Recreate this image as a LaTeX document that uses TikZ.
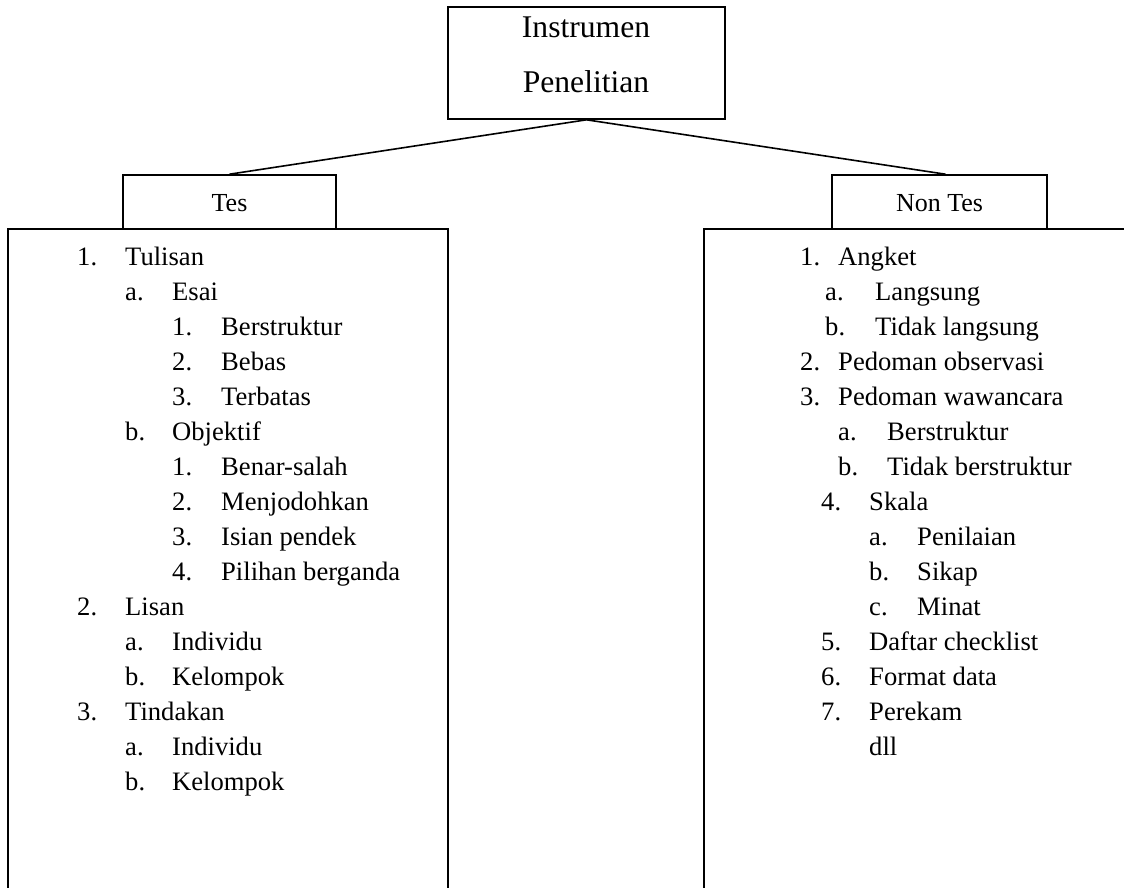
\documentclass[tikz,border=0pt]{standalone}
\usepackage{fontspec}
\setmainfont{Liberation Serif}
\begin{document}
\begin{tikzpicture}[x=1pt,y=-1pt,
  boxline/.style={line width=1.6pt,line cap=rect},
  itemtext/.style={inner sep=0pt,anchor=base west,font=\fontsize{26.6}{32}\selectfont},
  headbox/.style={draw,line width=1.6pt,inner sep=0pt,font=\fontsize{26}{32}\selectfont}]
\useasboundingbox (0,0) rectangle (1124,887);
% top box
\node[draw,line width=1.6pt,minimum width=277pt,minimum height=112pt,inner sep=0pt] (top) at (586.5,63) {};
\node[inner sep=0pt,anchor=base,font=\fontsize{31.6}{36}\selectfont] (topa) at (586,37) {Instrumen};
\node[inner sep=0pt,anchor=base,font=\fontsize{31.6}{36}\selectfont] (topb) at (586,92) {Penelitian};
% Tes / Non Tes boxes
\node[headbox,minimum width=213pt,minimum height=54pt] (tes) at (229.5,202) {};
\node[inner sep=0pt,anchor=base,font=\fontsize{26}{32}\selectfont] (teslbl) at (229.5,211) {Tes};
\node[headbox,minimum width=215pt,minimum height=54pt] (nontes) at (939.5,202) {};
\node[inner sep=0pt,anchor=base,font=\fontsize{26}{32}\selectfont] (nonteslbl) at (939.5,211) {Non Tes};
% connectors
\draw[line width=1.6pt] (top.south) -- (tes.north);
\draw[line width=1.6pt] (top.south) -- ([xshift=6pt]nontes.north);
% open list boxes
\coordinate (lbl) at (8,889);
\coordinate (ltl) at (8,229);
\coordinate (ltr) at (448,229);
\coordinate (lbr) at (448,889);
\draw[line width=1.6pt] (lbl) -- (ltl) -- (ltr) -- (lbr);
\coordinate (rtr) at (1126,229);
\coordinate (rtl) at (704,229);
\coordinate (rbl) at (704,889);
\draw[line width=1.6pt] (rtr) -- (rtl) -- (rbl);
% left list
\foreach \nx/\tx/\n/\t [count=\k] in {
  77/125/1./Tulisan,
  125/172/a./Esai,
  172/221/1./Berstruktur,
  172/221/2./Bebas,
  172/221/3./Terbatas,
  125/172/b./Objektif,
  172/221/1./Benar-salah,
  172/221/2./Menjodohkan,
  172/221/3./Isian pendek,
  172/221/4./Pilihan berganda,
  77/125/2./Lisan,
  125/172/a./Individu,
  125/172/b./Kelompok,
  77/125/3./Tindakan,
  125/172/a./Individu,
  125/172/b./Kelompok}{
  \node[itemtext] (ln\k) at (\nx,{265+35*(\k-1)}) {\n};
  \node[itemtext] (lt\k) at (\tx,{265+35*(\k-1)}) {\t};
}
% right list
\foreach \nx/\tx/\n/\t [count=\k] in {
  800/838/1./Angket,
  825/875/a./Langsung,
  825/875/b./Tidak langsung,
  800/838/2./Pedoman observasi,
  800/838/3./Pedoman wawancara,
  838/887/a./Berstruktur,
  838/887/b./Tidak berstruktur,
  821/869/4./Skala,
  869/917/a./Penilaian,
  869/917/b./Sikap,
  869/917/c./Minat,
  821/869/5./Daftar checklist,
  821/869/6./Format data,
  821/869/7./Perekam}{
  \node[itemtext] (rn\k) at (\nx,{265+35*(\k-1)}) {\n};
  \node[itemtext] (rt\k) at (\tx,{265+35*(\k-1)}) {\t};
}
\node[itemtext] (rdll) at (869,755) {dll};
\end{tikzpicture}
\end{document}
